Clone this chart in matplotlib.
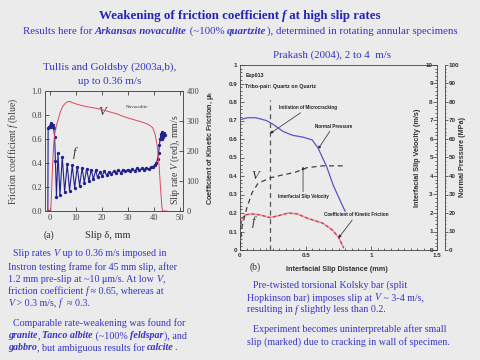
import numpy as np
import matplotlib
matplotlib.use("Agg")
import matplotlib.pyplot as plt
from matplotlib.ticker import MultipleLocator, FormatStrFormatter, FuncFormatter
from matplotlib.transforms import IdentityTransform

SERIF = ["Liberation Serif", "DejaVu Serif"]
SANS = ["Liberation Sans", "DejaVu Sans"]
BG = "#ebebeb"
TITLE_C = "#2323b8"
BODY_C = "#3535c4"

plt.rcParams["mathtext.fontset"] = "custom"
plt.rcParams["mathtext.rm"] = "Liberation Serif"
plt.rcParams["mathtext.it"] = "Liberation Serif:italic"

# ---- Tullis & Goldsby (a): slip in mm, f and V (mm/s)
f_slip = [-0.8, -0.7, -0.4, 0.0, 0.3, 0.6, 1.0, 1.4, 1.8, 2.1, 2.5,
          3.1, 3.85, 4.75, 5.65, 6.65, 7.55, 8.6, 9.5, 10.5, 11.4, 12.4, 13.2,
          14.1, 15.0, 15.9, 16.7, 17.6, 18.3,
          19.2, 20.0, 20.9, 21.8, 22.7, 23.6, 24.5, 25.4, 26.3, 27.2, 28.1,
          29.0, 29.9, 30.8, 31.7, 32.6, 33.5, 34.4, 35.3, 36.2, 37.1, 38.0,
          38.9, 39.6, 40.3, 40.9, 41.4, 41.8, 42.1, 42.4, 42.7, 43.0, 43.3,
          43.6, 43.9, 44.2]
f_val = [0.0, 0.69, 0.70, 0.71, 0.73, 0.70, 0.72, 0.69, 0.62, 0.42, 0.12,
         0.48, 0.13, 0.45, 0.16, 0.39, 0.17, 0.38, 0.19, 0.37, 0.21, 0.36, 0.235,
         0.35, 0.25, 0.345, 0.265, 0.34, 0.28,
         0.325, 0.29, 0.33, 0.30, 0.325, 0.31, 0.33, 0.315, 0.34, 0.32, 0.345,
         0.33, 0.345, 0.33, 0.35, 0.335, 0.355, 0.34, 0.355, 0.345, 0.36, 0.35,
         0.365, 0.37, 0.385, 0.40, 0.43, 0.48, 0.55, 0.60, 0.64, 0.60, 0.66,
         0.62, 0.65, 0.63]

v_slip = [-1.0, 0.3, 0.6, 1.0, 1.5, 2.0, 2.5, 3.0, 4.0, 5.0, 6.0, 7.0, 8.0,
          9.0, 10, 12, 14, 16, 18, 20, 22, 24, 26, 28, 30, 32, 34, 36, 38,
          39.5, 40.5, 41.3, 42.0, 42.6, 43.0, 43.3, 45]
v_val = [0, 0, 60, 150, 230, 265, 285, 300, 330, 350, 360, 365, 364,
         360, 357, 352, 348, 345, 342, 338, 333, 328, 323, 316, 310, 305, 300,
         295, 288, 278, 255, 215, 150, 70, 20, 0, 0]

# ---- Prakash (b): slip in mm
p_x = [0, 0.06, 0.12, 0.2, 0.25, 0.33, 0.4, 0.48, 0.55, 0.595, 0.66, 0.71, 0.78, 0.80]
p_mpa = [70.5, 71.5, 71.5, 70, 68, 64, 62, 61, 59.5, 55, 45, 35, 24, 21]
sv_x = [0.0, 0.015, 0.053, 0.092, 0.137, 0.23, 0.32, 0.42, 0.51, 0.63, 0.80]
sv_ms = [0.2, 1.25, 2.3, 3.1, 3.6, 3.9, 4.05, 4.2, 4.45, 4.55, 4.55]
mu_x = [0.0, 0.015, 0.04, 0.09, 0.15, 0.23, 0.29, 0.37, 0.435, 0.52, 0.63, 0.70, 0.75, 0.79]
mu_val = [0.11, 0.17, 0.19, 0.195, 0.19, 0.175, 0.185, 0.2, 0.195, 0.17, 0.145, 0.11, 0.07, 0.01]
x_crack = 0.23

fig = plt.figure(figsize=(4.8, 3.6), dpi=100, facecolor=BG)


def textw(s, **kw):
    r = fig.canvas.get_renderer()
    t = fig.text(0, 0, "|" + s + "|", transform=IdentityTransform(), **kw)
    w1 = t.get_window_extent(r).width
    t.set_text("||")
    w2 = t.get_window_extent(r).width
    t.remove()
    return w1 - w2


def rich(x, y, parts, size, color, ha="left", bold=False):
    ''' draw runs of text one after the other, y is from the top in pixels '''
    kws = []
    for s, st in parts:
        kws.append(dict(fontsize=size, color=color, family=SERIF,
                        fontstyle="italic" if "i" in st else "normal",
                        fontweight="bold" if ("b" in st or bold) else "normal"))
    ws = [textw(s, **kw) for (s, st), kw in zip(parts, kws)]
    x0 = x - sum(ws) / 2 if ha == "center" else x
    for (s, st), kw, w in zip(parts, kws, ws):
        fig.text(x0, 360 - y, s, transform=IdentityTransform(), va="center", ha="left", **kw)
        x0 += w


# ---------------- left panel
axL = fig.add_axes([45 / 480, 1 - 211 / 360, 137.5 / 480, 120 / 360])
axL.set_facecolor("none")
axL.plot(f_slip, f_val, color="#22228e", lw=0.8, marker="o", ms=1.4, mec="#22228e")
axL.set_xlim(-1.9, 51)
axL.set_ylim(0, 1)
axL.xaxis.set_major_locator(MultipleLocator(10))
axL.yaxis.set_major_locator(MultipleLocator(0.2))
axL.yaxis.set_major_formatter(FormatStrFormatter("%.1f"))
axL.tick_params(direction="in", length=3, width=0.6, labelsize=6, colors="#404040",
                top=True, pad=2)
for lab in axL.get_xticklabels() + axL.get_yticklabels():
    lab.set_family(SERIF)
for sp in axL.spines.values():
    sp.set_color("#505050")
    sp.set_linewidth(0.7)
axL.set_ylabel("Friction coefficient $f$ (blue)", family=SERIF, fontsize=7, color="#404040")
axL.yaxis.set_label_coords(-0.18, 0.5)
axL.text(8.8, 0.46, "f", family=SERIF, style="italic", fontsize=9, color="#303030")
axL.text(18.8, 0.80, "V", family=SERIF, style="italic", fontsize=9, color="#303030")
axL.text(33.3, 0.867, "Novaculite", family=SERIF, fontsize=3.6, color="#303030",
         ha="center", va="center")

axV = axL.twinx()
axV.plot(v_slip, v_val, color="#d94860", lw=0.7)
axV.set_ylim(0, 400)
axV.yaxis.set_major_locator(MultipleLocator(100))
axV.tick_params(direction="in", length=3, width=0.6, labelsize=6, colors="#404040", pad=3)
for lab in axV.get_yticklabels():
    lab.set_family(SERIF)
for sp in axV.spines.values():
    sp.set_visible(False)
axV.set_ylabel("Slip rate $V$ (red), mm/s", family=SERIF, fontsize=7, color="#404040")
axV.yaxis.set_label_coords(0.895, 0.425)

fig.text(49 / 480, 1 - 235 / 360, "(a)", family=SERIF, fontsize=7, color="#303030",
         ha="center", va="center")
fig.text(108 / 480, 1 - 235 / 360, "Slip δ, mm", family=SERIF, fontsize=7.5, color="#303030",
         ha="center", va="center")

# ---------------- right panel
axR = fig.add_axes([240 / 480, 1 - 250 / 360, 197 / 480, 185 / 360])
axR.set_facecolor("none")
axR.plot(mu_x, mu_val, color="#eaa4ae", lw=1.3, solid_capstyle="butt")
axR.plot(mu_x, mu_val, color="#cc3048", lw=0.8, dashes=(3, 2))
axR.plot([x_crack, x_crack], [0, 0.81], color="#555555", lw=0.9, dashes=(4, 3))
axR.set_xlim(0, 1.5)
axR.set_ylim(0, 1)
axR.xaxis.set_major_locator(MultipleLocator(0.5))
axR.xaxis.set_minor_locator(MultipleLocator(0.05))
axR.yaxis.set_major_locator(MultipleLocator(0.1))
axR.yaxis.set_minor_locator(MultipleLocator(0.02))
fmt = FuncFormatter(lambda v, p: "%g" % round(v, 2))
axR.xaxis.set_major_formatter(fmt)
axR.yaxis.set_major_formatter(fmt)
axR.tick_params(which="both", direction="in", width=0.5, labelsize=4.5, colors="#333333", pad=2)
axR.tick_params(which="major", length=3)
axR.tick_params(which="minor", length=1.5)
axR.spines["right"].set_visible(False)
for sp in axR.spines.values():
    sp.set_color("#444444")
    sp.set_linewidth(0.6)
for lab in axR.get_xticklabels() + axR.get_yticklabels():
    lab.set_family(SANS)
    lab.set_fontweight("bold")
axR.set_ylabel("Coefficient of Kinetic Friction, μ$_\\mathregular{k}$", family=SANS,
               fontweight="bold", fontsize=5.2, color="#333333")
axR.yaxis.set_label_coords(-0.122, 0.55)
axR.set_xlabel("Interfacial Slip Distance (mm)", family=SANS, fontweight="bold",
               fontsize=5.2, color="#333333")
axR.xaxis.set_label_coords(0.49, -0.086)

axS = axR.twinx()
axS.plot(sv_x, sv_ms, color="#404040", lw=0.9, dashes=(4, 3))
axS.set_ylim(0, 10)
axS.yaxis.set_major_locator(MultipleLocator(1))
axS.yaxis.set_minor_locator(MultipleLocator(0.2))
axS.tick_params(which="both", direction="in", width=0.5, labelsize=4.5, colors="#333333", pad=-3)
axS.tick_params(which="major", length=3)
axS.tick_params(which="minor", length=1.5)
for k in ["left", "top", "bottom"]:
    axS.spines[k].set_visible(False)
axS.spines["right"].set_color("#444444")
axS.spines["right"].set_linewidth(0.6)
for lab in axS.get_yticklabels():
    lab.set_family(SANS)
    lab.set_fontweight("bold")
    lab.set_horizontalalignment("right")
axS.set_ylabel("Interfacial Slip Velocity (m/s)", family=SANS, fontweight="bold",
               fontsize=5.2, color="#333333")
axS.yaxis.set_label_coords(0.885, 0.5)

axP = axR.twinx()
axP.plot(p_x, p_mpa, color="#5656c4", lw=0.9)
axP.set_ylim(0, 100)
axP.yaxis.set_major_locator(MultipleLocator(10))
axP.yaxis.set_minor_locator(MultipleLocator(2))
axP.spines["right"].set_position(("axes", 1.04))
for k in ["left", "top", "bottom"]:
    axP.spines[k].set_visible(False)
axP.spines["right"].set_color("#444444")
axP.spines["right"].set_linewidth(0.6)
axP.tick_params(which="both", direction="out", width=0.5, labelsize=4.5, colors="#333333", pad=1)
axP.tick_params(which="major", length=2)
axP.tick_params(which="minor", length=1)
for lab in axP.get_yticklabels():
    lab.set_family(SANS)
    lab.set_fontweight("bold")
axP.set_ylabel("Normal Pressure (MPa)", family=SANS, fontweight="bold",
               fontsize=5.2, color="#333333")
axP.yaxis.set_label_coords(1.11, 0.5)

note = dict(family=SANS, fontweight="bold", color="#222222")
axR.text(0.04, 0.945, "Exp013", fontsize=3.8, va="center", **note)
axR.text(0.04, 0.886, "Tribo-pair: Quartz on Quartz", fontsize=3.8, va="center", **note)
arrow = dict(arrowstyle="-|>", lw=0.5, color="#222222", mutation_scale=4, shrinkA=0, shrinkB=0)
axR.annotate("Initiation of Microcracking", xy=(0.23, 0.63), xytext=(0.52, 0.77),
             fontsize=3.3, ha="center", va="center", arrowprops=arrow, **note)
axR.annotate("Normal Pressure", xy=(0.595, 0.546), xytext=(0.71, 0.67),
             fontsize=3.3, ha="center", va="center", arrowprops=arrow, **note)
axR.annotate("Interfacial Slip Velocity", xy=(0.48, 0.45), xytext=(0.48, 0.287),
             fontsize=3.3, ha="center", va="center", arrowprops=arrow, **note)
axR.annotate("Coefficient of Kinetic Friction", xy=(0.75, 0.065), xytext=(0.885, 0.19),
             fontsize=3.3, ha="center", va="center", arrowprops=arrow, **note)
axR.text(0.115, 0.40, "V", family=SERIF, style="italic", fontsize=9, color="#303030",
         ha="center", va="center")
axR.text(0.10, 0.15, "f", family=SERIF, style="italic", fontsize=9, color="#303030",
         ha="center", va="center")
fig.text(255 / 480, 1 - 267 / 360, "(b)", family=SERIF, fontsize=7, color="#303030",
         ha="center", va="center")

# ---------------- slide texts
rich(240, 16, [("Weakening of friction coefficient ", ""), ("f", "i"),
               (" at high slip rates", "")], 9.3, TITLE_C, ha="center", bold=True)
rich(240, 31, [("Results here for ", ""), ("Arkansas novaculite", "bi"),
               (" (~100% ", ""), ("quartzite", "bi"),
               ("), determined in rotating annular specimens", "")], 7.8, BODY_C, ha="center")
rich(110, 67, [("Tullis and Goldsby (2003a,b),", "")], 8, BODY_C, ha="center")
rich(110, 82, [("up to 0.36 m/s", "")], 8, BODY_C, ha="center")
rich(332, 55, [("Prakash (2004), 2 to 4  m/s", "")], 7.8, BODY_C, ha="center")

S = 7.2
rich(13, 254, [("Slip rates ", ""), ("V", "i"), (" up to 0.36 m/s imposed in", "")], S, BODY_C)
rich(8, 267, [("Instron testing frame for 45 mm slip, after", "")], S, BODY_C)
rich(8, 279, [("1.2 mm pre-slip at ~10 μm/s. At low ", ""), ("V", "i"), (",", "")], S, BODY_C)
rich(8, 291, [("friction coefficient ", ""), ("f", "i"), (" ≈ 0.65, whereas at", "")], S, BODY_C)
rich(8, 303, [("V", "i"), (" > 0.3 m/s, ", ""), ("f", "i"), ("  ≈ 0.3.", "")], S, BODY_C)
rich(13, 323, [("Comparable rate-weakening was found for", "")], S, BODY_C)
rich(8, 336, [("granite", "bi"), (", ", ""), ("Tanco albite", "bi"), (" (~100% ", ""),
              ("feldspar", "bi"), ("), and", "")], S, BODY_C)
rich(8, 348, [("gabbro", "bi"), (", but ambiguous results for ", ""), ("calcite", "bi"),
              (".", "")], S, BODY_C)

rich(253, 285, [("Pre-twisted torsional Kolsky bar (split", "")], S, BODY_C)
rich(247, 298, [("Hopkinson bar) imposes slip at ", ""), ("V", "i"), (" ~ 3-4 m/s,", "")], S, BODY_C)
rich(247, 310, [("resulting in ", ""), ("f", "i"), (" slightly less than 0.2.", "")], S, BODY_C)
rich(253, 329, [("Experiment becomes uninterpretable after small", "")], S, BODY_C)
rich(247, 342, [("slip (marked) due to cracking in wall of specimen.", "")], S, BODY_C)

fig.savefig("out.png", dpi=100, facecolor=BG)
